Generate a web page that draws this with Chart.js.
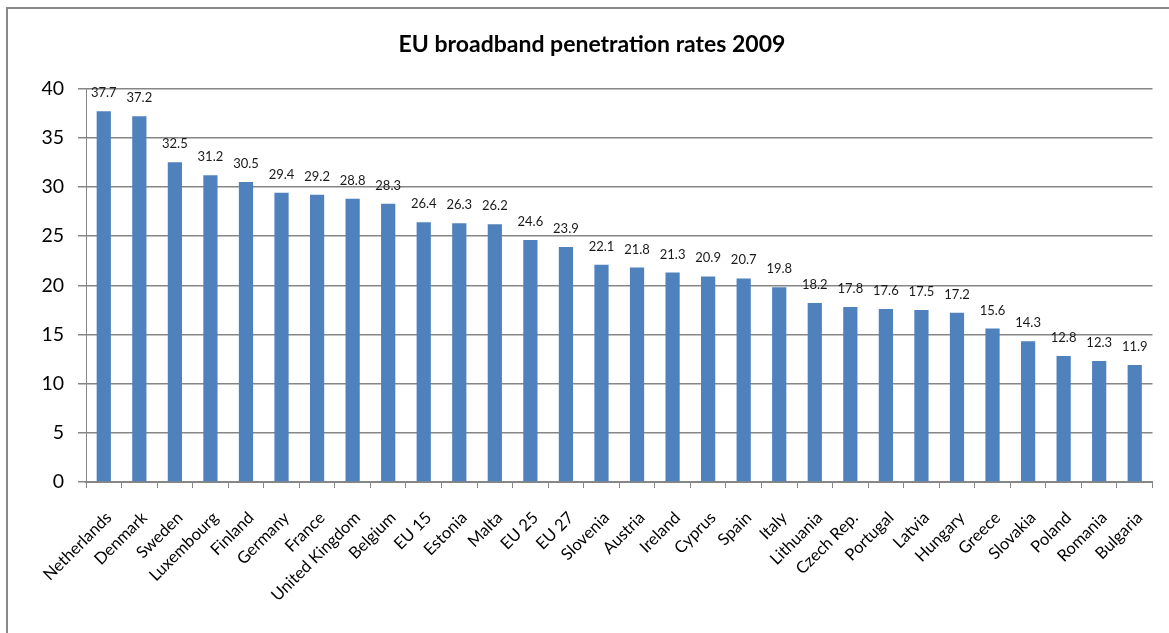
<!DOCTYPE html>
<html>
<head>
<meta charset="utf-8">
<script src="https://cdn.jsdelivr.net/npm/chart.js@4/dist/chart.umd.min.js"></script>
<style>
  html, body { margin: 0; padding: 0; background: #fff; overflow: hidden; }
  #frame {
    position: absolute; left: 6px; top: 7px; width: 1200px; height: 700px;
    border: 2px solid #8a8a8a; box-sizing: border-box;
  }
  #wrap { position: absolute; left: 0; top: 0; width: 1169px; height: 633px; }
</style>
</head>
<body>
<div id="frame"></div>
<div id="wrap"><canvas id="barChart"></canvas></div>
<script>
const countries = ['Netherlands', 'Denmark', 'Sweden', 'Luxembourg', 'Finland', 'Germany', 'France',
  'United Kingdom', 'Belgium', 'EU 15', 'Estonia', 'Malta', 'EU 25', 'EU 27', 'Slovenia', 'Austria',
  'Ireland', 'Cyprus', 'Spain', 'Italy', 'Lithuania', 'Czech Rep.', 'Portugal', 'Latvia', 'Hungary',
  'Greece', 'Slovakia', 'Poland', 'Romania', 'Bulgaria'];
const rates = [37.7, 37.2, 32.5, 31.2, 30.5, 29.4, 29.2, 28.8, 28.3, 26.4, 26.3, 26.2, 24.6, 23.9, 22.1,
  21.8, 21.3, 20.9, 20.7, 19.8, 18.2, 17.8, 17.6, 17.5, 17.2, 15.6, 14.3, 12.8, 12.3, 11.9];
const yTicks = [0, 5, 10, 15, 20, 25, 30, 35, 40];

const FONT = 'Lato, Calibri, sans-serif';
const GRID = '#868686';

// value labels above each bar
const barLabels = {
  id: 'barLabels',
  afterDatasetsDraw(chart) {
    const ctx = chart.ctx;
    const meta = chart.getDatasetMeta(0);
    ctx.save();
    ctx.font = '13px ' + FONT;
    ctx.fillStyle = '#1a1a1a';
    ctx.textAlign = 'center';
    ctx.textBaseline = 'alphabetic';
    meta.data.forEach((bar, i) => {
      ctx.fillText(rates[i].toFixed(1), bar.x, bar.y - 14);
    });
    ctx.restore();
  }
};

const ctx = document.getElementById('barChart').getContext('2d');

const chart = new Chart(ctx, {
  type: 'bar',
  data: {
    labels: countries,
    datasets: [
      {
        label: 'Broadband penetration',
        data: rates,
        backgroundColor: '#4F81BD',
        categoryPercentage: 1,
        barPercentage: 0.4
      }
    ]
  },
  options: {
    responsive: true,
    maintainAspectRatio: false,
    animation: false,
    layout: { padding: { left: 31, right: 16, top: 0, bottom: 0 } },
    plugins: {
      legend: { display: false },
      tooltip: { enabled: false },
      title: {
        display: true,
        text: 'EU broadband penetration rates 2009',
        color: '#000',
        font: { family: FONT, size: 23, weight: 'bold' },
        padding: { top: 31, bottom: 30 }
      }
    },
    scales: {
      x: {
        grid: {
          display: true,
          offset: true,
          drawOnChartArea: false,
          drawTicks: true,
          tickLength: 6,
          color: GRID
        },
        border: { color: GRID, width: 2 },
        ticks: {
          color: '#000',
          font: { family: FONT, size: 16.5 },
          minRotation: 45,
          maxRotation: 45,
          autoSkip: false,
          padding: 20,
          labelOffset: 5
        },
        afterFit: scale => { scale.height = 151; }
      },
      y: {
        min: 0,
        max: 40,
        afterBuildTicks: scale => { scale.ticks = yTicks.map(v => ({ value: v })); },
        grid: { color: GRID, tickLength: 8, lineWidth: 1.5 },
        border: { color: GRID, width: 1 },
        ticks: {
          color: '#000',
          font: { family: FONT, size: 19.5 },
          padding: 14
        },
        afterFit: scale => { scale.width = 55; }
      }
    }
  },
  plugins: [barLabels]
});
</script>
</body>
</html>
